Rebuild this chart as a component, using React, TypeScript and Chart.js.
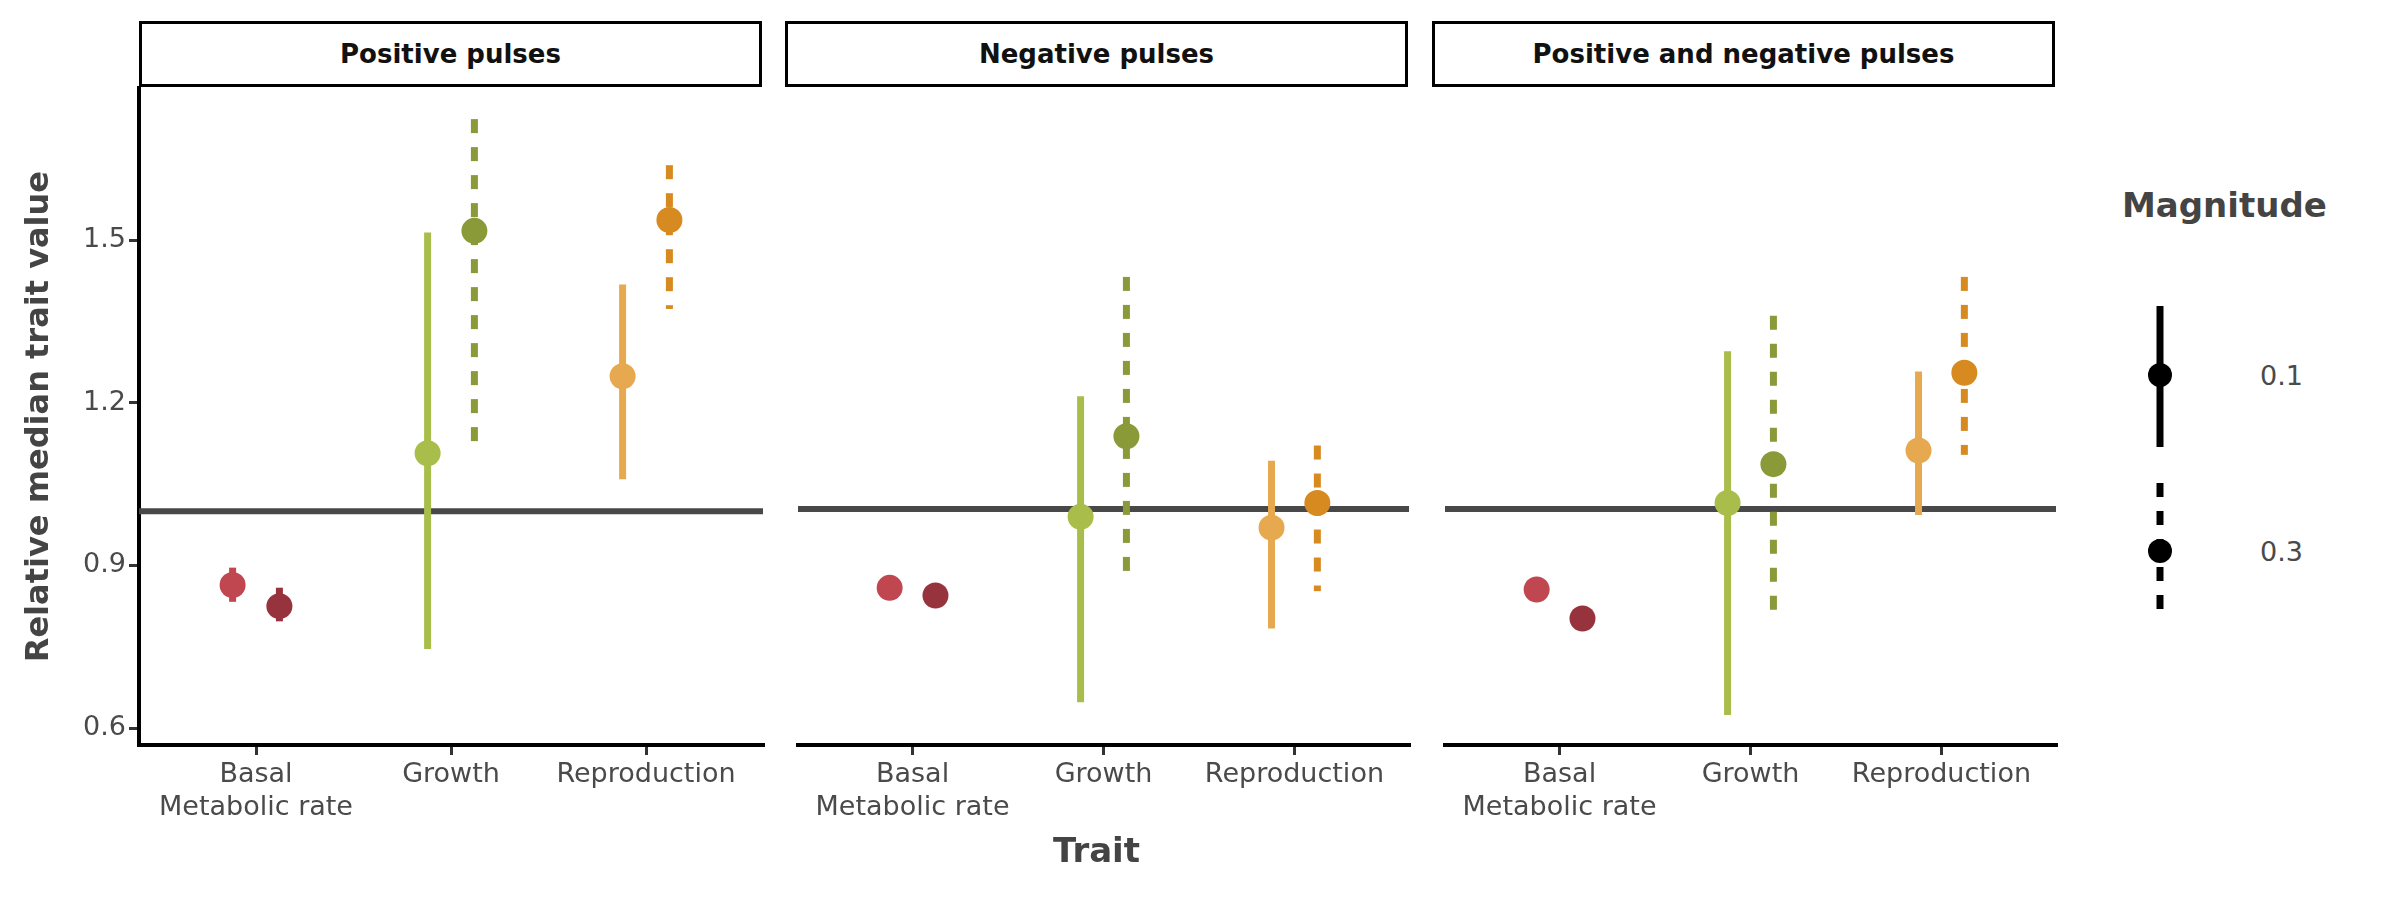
import { useEffect, useRef } from 'react'
import { Chart, registerables } from 'chart.js'

Chart.register(...registerables)

const panels = ['Positive pulses', 'Negative pulses', 'Positive and negative pulses']
const traits = [['Basal', 'Metabolic rate'], 'Growth', 'Reproduction']
const magnitudes = ['0.1', '0.3']

// [panel][trait] for magnitude 0.1
const mid01 = [
  [0.864, 1.107, 1.249],
  [0.856, 0.986, 0.966],
  [0.853, 1.011, 1.107],
]
const lo01 = [
  [0.833, 0.746, 1.059],
  [0.85, 0.647, 0.782],
  [0.836, 0.624, 0.989],
]
const hi01 = [
  [0.896, 1.514, 1.418],
  [0.862, 1.206, 1.088],
  [0.87, 1.288, 1.251],
]
// [panel][trait] for magnitude 0.3
const mid03 = [
  [0.825, 1.517, 1.537],
  [0.842, 1.133, 1.011],
  [0.8, 1.082, 1.249],
]
const lo03 = [
  [0.797, 1.105, 1.373],
  [0.836, 0.881, 0.85],
  [0.795, 0.791, 1.099],
]
const hi03 = [
  [0.859, 1.723, 1.638],
  [0.848, 1.424, 1.116],
  [0.805, 1.353, 1.424],
]
const yTicks = [0.6, 0.9, 1.2, 1.5]

const colors01 = ['#c0474f', '#a9bd4a', '#e6a94f']
const colors03 = ['#97333d', '#8a9a38', '#d68a1f']

const FONT = "'DejaVu Sans', sans-serif"
const OFFSET = 0.12

// panel plot areas in page pixels
const plotLeft = [139, 785, 1432]
const plotWidth = 623
const stripTop = 21
const stripHeight = 66
const canvasTop = 69
const canvasHeight = 831
const bottomSpace = 155
const extraRight = 14

function Panel({ idx }: { idx: number }) {
  const ref = useRef<HTMLCanvasElement>(null)

  useEffect(() => {
    if (!ref.current) return
    const first = idx === 0

    const pts = (mids: number[][], sign: number) =>
      mids[idx].map((v, t) => ({ x: t + 1 + sign * OFFSET, y: v }))

    const errorBars = {
      id: 'errorBars',
      beforeDatasetsDraw(chart: any) {
        const { ctx, chartArea, scales } = chart
        const xs = scales.x
        const ys = scales.y
        ctx.save()
        // reference line at 1
        ctx.strokeStyle = '#484848'
        ctx.lineWidth = 6
        ctx.beginPath()
        ctx.moveTo(chartArea.left, ys.getPixelForValue(1))
        ctx.lineTo(chartArea.right, ys.getPixelForValue(1))
        ctx.stroke()
        const draw = (lo: number[][], hi: number[][], cols: string[], sign: number, dash: number[]) => {
          lo[idx].forEach((l, t) => {
            const px = xs.getPixelForValue(t + 1 + sign * OFFSET)
            ctx.strokeStyle = cols[t]
            ctx.lineWidth = 7
            ctx.setLineDash(dash)
            ctx.beginPath()
            ctx.moveTo(px, ys.getPixelForValue(hi[idx][t]))
            ctx.lineTo(px, ys.getPixelForValue(l))
            ctx.stroke()
          })
        }
        draw(lo01, hi01, colors01, -1, [])
        draw(lo03, hi03, colors03, 1, [14, 14])
        ctx.restore()
      },
    }

    const chart = new Chart(ref.current, {
      type: 'scatter',
      data: {
        datasets: [
          {
            label: '0.1',
            data: pts(mid01, -1),
            pointRadius: 13,
            pointBackgroundColor: colors01,
            pointBorderWidth: 0,
          },
          {
            label: '0.3',
            data: pts(mid03, 1),
            pointRadius: 13,
            pointBackgroundColor: colors03,
            pointBorderWidth: 0,
          },
        ],
      },
      options: {
        animation: false,
        responsive: false,
        devicePixelRatio: 1,
        layout: { padding: 0 },
        plugins: { legend: { display: false }, tooltip: { enabled: false } },
        scales: {
          x: {
            type: 'linear',
            min: 0.4,
            max: 3.6,
            afterBuildTicks: (axis: any) => {
              axis.ticks = [1, 2, 3].map(v => ({ value: v }))
            },
            afterFit: (axis: any) => {
              axis.height = bottomSpace
            },
            grid: { drawOnChartArea: false, color: '#333', tickLength: 10, lineWidth: 3 },
            border: { color: '#000', width: 4 },
            ticks: {
              color: '#4a4a4a',
              font: { family: FONT, size: 27 },
              padding: 4,
              callback: (v: any) => traits[Number(v) - 1] as any,
            },
          },
          y: {
            display: first,
            min: 0.569,
            max: 1.78,
            afterBuildTicks: (axis: any) => {
              axis.ticks = yTicks.map(v => ({ value: v }))
            },
            afterFit: (axis: any) => {
              axis.width = first ? plotLeft[0] : 0
            },
            grid: { drawOnChartArea: false, color: '#333', tickLength: 10, lineWidth: 3 },
            border: { color: '#000', width: 4 },
            ticks: {
              color: '#4a4a4a',
              font: { family: FONT, size: 27 },
              callback: (v: any) => Number(v).toFixed(1),
            },
            title: {
              display: true,
              text: 'Relative median trait value',
              color: '#444',
              font: { family: FONT, size: 32, weight: 'bold' },
              padding: { top: 20, bottom: 4 },
            },
          },
        },
      },
      plugins: [errorBars],
    })
    return () => chart.destroy()
  }, [idx])

  const left = idx === 0 ? 0 : plotLeft[idx]
  const width = (idx === 0 ? plotLeft[0] + plotWidth : plotWidth) + extraRight
  return (
    <>
      <div
        style={{
          position: 'absolute',
          left: plotLeft[idx],
          top: stripTop,
          width: plotWidth - 6,
          height: stripHeight - 6,
          border: '3px solid #000',
          display: 'flex',
          alignItems: 'center',
          justifyContent: 'center',
          fontFamily: FONT,
          fontWeight: 'bold',
          fontSize: 26,
          color: '#111',
        }}
      >
        {panels[idx]}
      </div>
      <canvas
        ref={ref}
        width={width}
        height={canvasHeight}
        style={{ position: 'absolute', left, top: canvasTop, width, height: canvasHeight }}
      />
    </>
  )
}

export default function App() {
  return (
    <div style={{ position: 'fixed', left: 0, top: 0, width: 2400, height: 900, background: '#fff' }}>
      {panels.map((_, i) => (
        <Panel key={i} idx={i} />
      ))}
      <div
        style={{
          position: 'absolute',
          left: plotLeft[1],
          width: plotWidth,
          top: 830,
          textAlign: 'center',
          fontFamily: FONT,
          fontWeight: 'bold',
          fontSize: 34,
          color: '#444',
        }}
      >
        Trait
      </div>
      <div
        style={{
          position: 'absolute',
          left: 2122,
          top: 185,
          fontFamily: FONT,
          fontWeight: 'bold',
          fontSize: 34,
          color: '#444',
        }}
      >
        Magnitude
      </div>
      <svg style={{ position: 'absolute', left: 2120, top: 290 }} width={260} height={360}>
        <line x1={40} y1={16} x2={40} y2={157} stroke="#000" strokeWidth={7} />
        <circle cx={40} cy={85} r={12} fill="#000" />
        <line x1={40} y1={193} x2={40} y2={333} stroke="#000" strokeWidth={7} strokeDasharray="14 14" />
        <circle cx={40} cy={261} r={12} fill="#000" />
        <text x={140} y={95} fontFamily={FONT} fontSize={27} fill="#4a4a4a">
          {magnitudes[0]}
        </text>
        <text x={140} y={271} fontFamily={FONT} fontSize={27} fill="#4a4a4a">
          {magnitudes[1]}
        </text>
      </svg>
    </div>
  )
}
